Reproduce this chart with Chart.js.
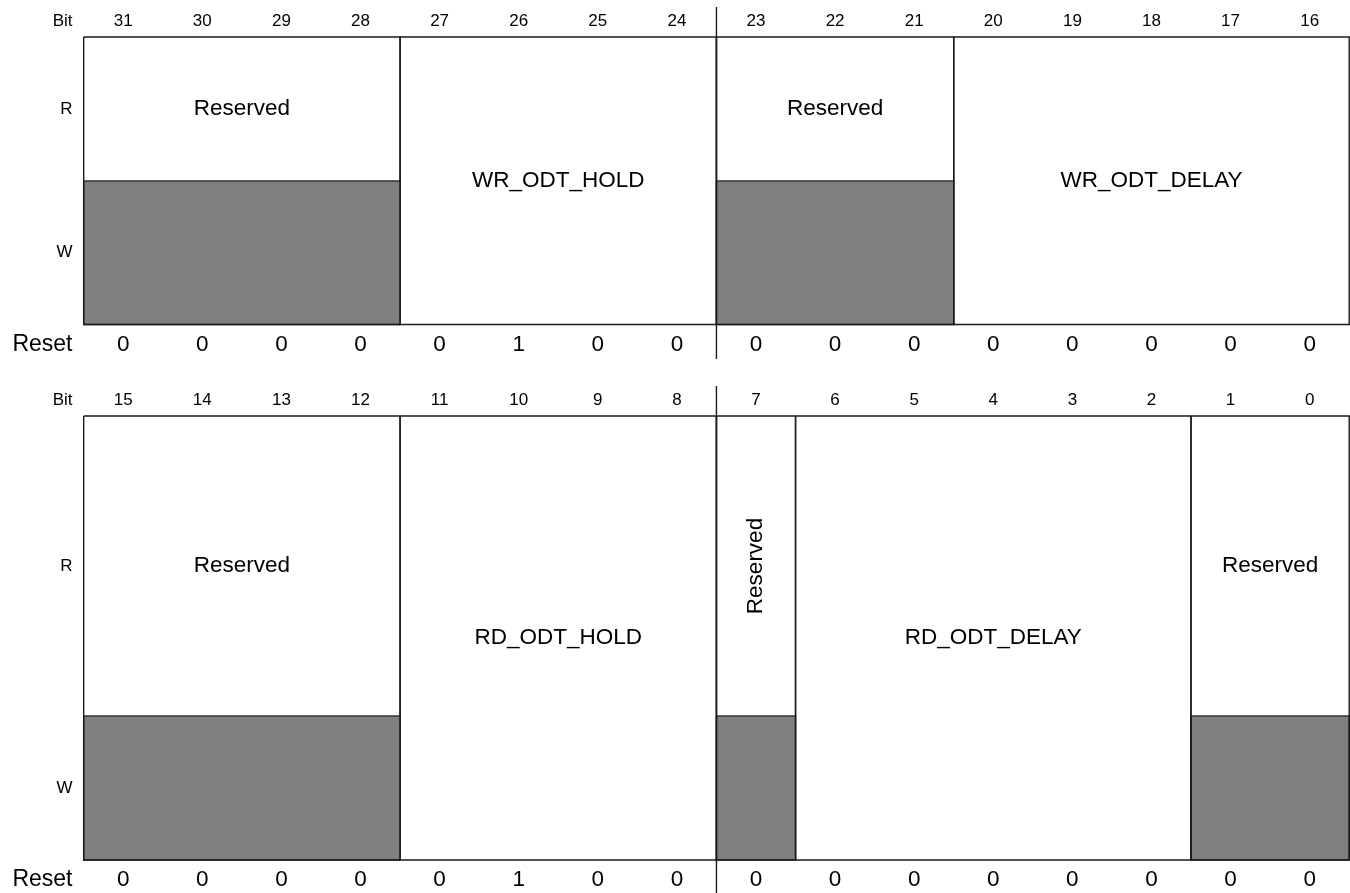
<!DOCTYPE html>
<html>
<head>
<meta charset="utf-8">
<title>Register layout</title>
<script src="https://cdn.jsdelivr.net/npm/chart.js@4/dist/chart.umd.min.js"></script>
<style>
    body { margin: 0; background: #fff; }
    .wrap { width: 1350px; height: 893px; position: relative; }
</style>
</head>
<body>
<div class="wrap"><canvas id="regChart"></canvas></div>
<script>
// Bit numbers shown above each register (left to right)
const topBitLabels = ['31', '30', '29', '28', '27', '26', '25', '24', '23', '22', '21', '20', '19', '18', '17', '16'];
const bottomBitLabels = ['15', '14', '13', '12', '11', '10', '9', '8', '7', '6', '5', '4', '3', '2', '1', '0'];

// Reset values, same order as the bit labels
const topResetValues = [0, 0, 0, 0, 0, 1, 0, 0, 0, 0, 0, 0, 0, 0, 0, 0];
const bottomResetValues = [0, 0, 0, 0, 0, 1, 0, 0, 0, 0, 0, 0, 0, 0, 0, 0];

// Fields of bits 31..16
const topFieldNames = ['Reserved', 'WR_ODT_HOLD', 'Reserved', 'WR_ODT_DELAY'];
const topFieldMsb = [31, 27, 23, 20];
const topFieldLsb = [28, 24, 21, 16];
const topFieldWritable = [false, true, false, true];

// Fields of bits 15..0
const bottomFieldNames = ['Reserved', 'RD_ODT_HOLD', 'Reserved', 'RD_ODT_DELAY', 'Reserved'];
const bottomFieldMsb = [15, 11, 7, 6, 1];
const bottomFieldLsb = [12, 8, 7, 2, 0];
const bottomFieldWritable = [false, true, false, true, false];

// vertical layout of each register block (canvas rows)
const registers = [
    {
        highBit: 31, bits: topBitLabels, reset: topResetValues,
        names: topFieldNames, msb: topFieldMsb, lsb: topFieldLsb, writable: topFieldWritable,
        bitY: 21, top: 37, split: 181, bottom: 324.5, resetY: 345, divTop: 7, divBottom: 359
    },
    {
        highBit: 15, bits: bottomBitLabels, reset: bottomResetValues,
        names: bottomFieldNames, msb: bottomFieldMsb, lsb: bottomFieldLsb, writable: bottomFieldWritable,
        bitY: 400.5, top: 416, split: 716, bottom: 860, resetY: 880, divTop: 386, divBottom: 893
    }
];

const FONT = '"Liberation Sans", Arial, Helvetica, sans-serif';
const LINE = '#1a1a1a';
const GREY = '#808080';

function rect(x0, x1, y0, y1) {
    return [
        { x: x0, y: y0 }, { x: x1, y: y0 }, { x: x1, y: y1 },
        { x: x0, y: y1 }, { x: x0, y: y0 }
    ];
}

const datasets = [];
registers.forEach(reg => {
    reg.names.forEach((name, i) => {
        const x0 = reg.highBit - reg.msb[i];
        const x1 = reg.highBit - reg.lsb[i] + 1;
        // outline of the whole field
        datasets.push({
            data: rect(x0, x1, reg.top, reg.bottom),
            showLine: true, borderColor: LINE, borderWidth: 1.4,
            pointRadius: 0, fill: false, clip: false
        });
        // not writable -> grey W half
        if (!reg.writable[i]) {
            datasets.push({
                data: rect(x0, x1, reg.split, reg.bottom),
                showLine: true, borderColor: '#333', borderWidth: 1.4,
                backgroundColor: GREY, pointRadius: 0, fill: 'shape', clip: false
            });
        }
    });
    // centre divider between byte halves
    datasets.push({
        data: [{ x: 8, y: reg.divTop }, { x: 8, y: reg.divBottom }],
        showLine: true, borderColor: LINE, borderWidth: 1.4,
        pointRadius: 0, fill: false, clip: false
    });
});

const labelPlugin = {
    id: 'regLabels',
    afterDraw(chart) {
        const ctx = chart.ctx;
        const xs = chart.scales.x;
        const ys = chart.scales.y;
        const px = v => xs.getPixelForValue(v);
        const py = v => ys.getPixelForValue(v);
        const leftX = 72.5;

        ctx.save();
        ctx.fillStyle = '#000';
        ctx.textBaseline = 'middle';

        registers.forEach(reg => {
            // row captions
            ctx.textAlign = 'right';
            ctx.font = '17px ' + FONT;
            ctx.fillText('Bit', leftX, py(reg.bitY));
            ctx.fillText('R', leftX, py((reg.top + reg.split) / 2));
            ctx.fillText('W', leftX, py((reg.split + reg.bottom) / 2));
            ctx.font = '23px ' + FONT;
            ctx.fillText('Reset', leftX, py(reg.resetY));

            // bit numbers and reset values
            ctx.textAlign = 'center';
            reg.bits.forEach((b, i) => {
                ctx.font = '17px ' + FONT;
                ctx.fillText(b, px(i + 0.5), py(reg.bitY));
                ctx.font = '22.5px ' + FONT;
                ctx.fillText(String(reg.reset[i]), px(i + 0.5), py(reg.resetY));
            });

            // field names
            ctx.font = '22.5px ' + FONT;
            reg.names.forEach((name, i) => {
                const x0 = reg.highBit - reg.msb[i];
                const x1 = reg.highBit - reg.lsb[i] + 1;
                const cx = px((x0 + x1) / 2);
                const cy = reg.writable[i] ? py((reg.top + reg.bottom) / 2) : py((reg.top + reg.split) / 2);
                const w = px(x1) - px(x0);
                if (ctx.measureText(name).width > w - 8) {
                    ctx.save();
                    ctx.translate(cx, cy);
                    ctx.rotate(-Math.PI / 2);
                    ctx.fillText(name, 0, 0);
                    ctx.restore();
                } else {
                    ctx.fillText(name, cx, cy);
                }
            });
        });
        ctx.restore();
    }
};

const regChart = new Chart(document.getElementById('regChart'), {
    type: 'scatter',
    data: { datasets: datasets },
    options: {
        responsive: true,
        maintainAspectRatio: false,
        animation: false,
        events: [],
        layout: { padding: 0 },
        plugins: {
            legend: { display: false },
            tooltip: { enabled: false }
        },
        scales: {
            x: { type: 'linear', display: false, min: -1.058, max: 16.01 },
            y: { type: 'linear', display: false, reverse: true, min: 0, max: 893 }
        }
    },
    plugins: [labelPlugin]
});
</script>
</body>
</html>
